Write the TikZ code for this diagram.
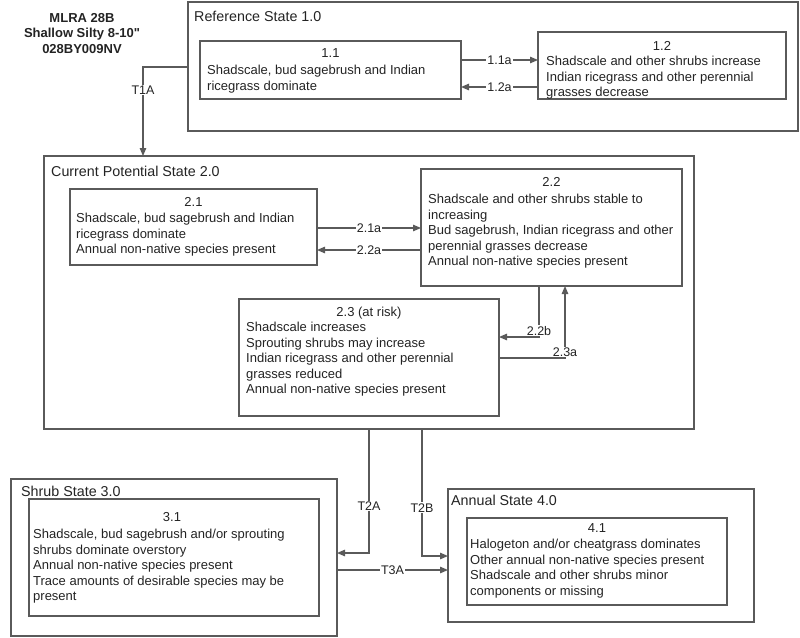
\documentclass[tikz,border=0pt]{standalone}
\usepackage{fontspec}
\setmainfont{Liberation Sans}[Ligatures=TeXOff]
\usetikzlibrary{arrows.meta}
\definecolor{linegray}{RGB}{90,90,90}
\definecolor{inkgray}{RGB}{35,35,35}
\tikzset{
  statebox/.style={draw=linegray, line width=1.3pt, anchor=north west, inner sep=0pt, outer sep=0pt},
  statelbl/.style={anchor=base west, inner sep=0pt, text=inkgray, font=\fontsize{14.3}{17}\selectfont},
  phasenum/.style={anchor=base, inner sep=0pt, text=inkgray, font=\fontsize{13}{15.5}\selectfont},
  phasetxt/.style={anchor=north west, align=left, inner sep=0pt, text=inkgray, font=\fontsize{13}{15.5}\selectfont},
  trans/.style={draw=linegray, line width=1.3pt, -{Triangle[length=8pt,width=6.5pt]}},
  translbl/.style={fill=white, inner sep=1pt, text=inkgray, font=\fontsize{12.5}{14}\selectfont}
}
\begin{document}
\begin{tikzpicture}[x=1pt, y=1pt, yscale=-1]
    \useasboundingbox (0,0) rectangle (800,637);
    \node [anchor=north, align=center, inner sep=0pt, text=inkgray, font=\bfseries\fontsize{13}{15.6}\selectfont] (title) at (82,13) {MLRA 28B\\Shallow Silty 8-10"\\028BY009NV};

    % reference state
    \node [statebox, minimum width=610, minimum height=129] (ref) at (188,2) {};
    \node [statelbl] (refl) at (194,21) {Reference State 1.0};
    \node [statebox, minimum width=261, minimum height=58] (p11) at (200,41) {};
    \node [phasenum] (p11n) at (330.5,57.6) {1.1};
    \node [phasetxt] (p11t) at (207,65.2) {Shadscale, bud sagebrush and Indian\\ricegrass dominate};
    \node [statebox, minimum width=248, minimum height=67] (p12) at (538,32) {};
    \node [phasenum] (p12n) at (662,50.6) {1.2};
    \node [phasetxt] (p12t) at (546,56.2) {Shadscale and other shrubs increase\\Indian ricegrass and other perennial\\grasses decrease};
    \draw [trans] (p11.east |- 0,60) -- node [translbl] {1.1a} (p12.west |- 0,60);
    \draw [trans] (p12.west |- 0,87) -- node [translbl] {1.2a} (p11.east |- 0,87);

    % current potential state
    \node [statebox, minimum width=650, minimum height=273] (cur) at (44,156) {};
    \node [statelbl] (curl) at (51,176) {Current Potential State 2.0};
    \draw [trans] (ref.west |- 0,67) -| node [translbl, pos=.63] {T1A} (cur.north -| 143,0);
    \node [statebox, minimum width=247, minimum height=76] (p21) at (70,189) {};
    \node [phasenum] (p21n) at (193.5,206.6) {2.1};
    \node [phasetxt] (p21t) at (76,213.2) {Shadscale, bud sagebrush and Indian\\ricegrass dominate\\Annual non-native species present};
    \node [statebox, minimum width=261, minimum height=117] (p22) at (421,169) {};
    \node [phasenum] (p22n) at (551.5,186.6) {2.2};
    \node [phasetxt] (p22t) at (428,194.2) {Shadscale and other shrubs stable to\\increasing\\Bud sagebrush, Indian ricegrass and other\\perennial grasses decrease\\Annual non-native species present};
    \node [statebox, minimum width=260, minimum height=117] (p23) at (239,299) {};
    \node [phasenum] (p23n) at (369,316.6) {2.3 (at risk)};
    \node [phasetxt] (p23t) at (246,322.2) {Shadscale increases\\Sprouting shrubs may increase\\Indian ricegrass and other perennial\\grasses reduced\\Annual non-native species present};
    \draw [trans] (p21.east |- 0,228) -- node [translbl] {2.1a} (p22.west |- 0,228);
    \draw [trans] (p22.west |- 0,250) -- node [translbl] {2.2a} (p21.east |- 0,250);
    \draw [trans] (p22.south -| 539,0) |- node [translbl, pos=.5, above] {2.2b} (p23.east |- 0,337);
    \draw [trans] (p23.east |- 0,358) -| node [translbl, pos=.5, above] {2.3a} (p22.south -| 565,0);

    % shrub state
    \node [statebox, minimum width=326, minimum height=157] (s3) at (11,479) {};
    \node [statelbl] (s3l) at (21,496) {Shrub State 3.0};
    \node [statebox, minimum width=290, minimum height=117] (p31) at (29,499) {};
    \node [phasenum] (p31n) at (172,521.6) {3.1};
    \node [phasetxt] (p31t) at (33,529.2) {Shadscale, bud sagebrush and/or sprouting\\shrubs dominate overstory\\Annual non-native species present\\Trace amounts of desirable species may be\\present};

    % annual state
    \node [statebox, minimum width=306, minimum height=133] (s4) at (448,489) {};
    \node [statelbl] (s4l) at (451,505) {Annual State 4.0};
    \node [statebox, minimum width=260, minimum height=87] (p41) at (467,518) {};
    \node [phasenum] (p41n) at (597,532.6) {4.1};
    \node [phasetxt] (p41t) at (470,539.2) {Halogeton and/or cheatgrass dominates\\Other annual non-native species present\\Shadscale and other shrubs minor\\components or missing};

    \draw [trans] (cur.south -| 369,0) |- node [translbl, pos=.31] {T2A} (s3.east |- 0,553);
    \draw [trans] (cur.south -| 422,0) |- node [translbl, pos=.31] {T2B} (s4.west |- 0,556);
    \draw [trans] (s3.east |- 0,570) -- node [translbl] {T3A} (s4.west |- 0,570);
\end{tikzpicture}
\end{document}
